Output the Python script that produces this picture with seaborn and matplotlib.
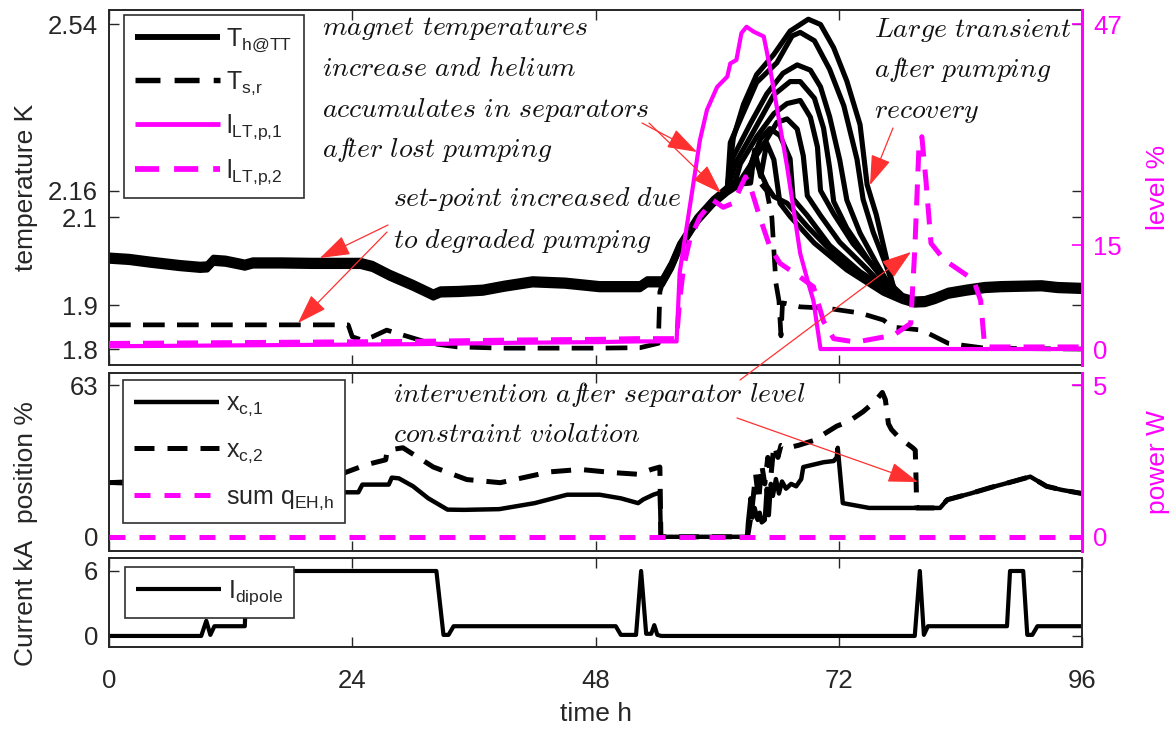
import matplotlib
matplotlib.use("Agg")
import matplotlib.pyplot as plt
import seaborn as sns
from matplotlib.patches import FancyArrowPatch

# ---------------- data ----------------
# magnet temperatures T_h@TT: shared history before the transient
th_base_t = [0, 2, 4, 7, 9, 9.7, 10.3, 11.5, 13.0, 13.4, 14.2, 17, 20, 24.8, 26, 27.7,
             30, 32.0, 32.7, 34.5, 36.9, 39, 41.8, 45, 48.4, 50, 52.4, 53.1, 54.6, 55.5,
             56.3, 57.2, 58.0, 59.6, 61.0]
th_base_T = [2.007, 2.004, 1.998, 1.990, 1.986, 1.987, 2.002, 2.000, 1.993, 1.991, 1.996,
             1.996, 1.995, 1.995, 1.988, 1.968, 1.945, 1.923, 1.930, 1.931, 1.934, 1.943,
             1.953, 1.950, 1.942, 1.942, 1.942, 1.953, 1.953, 1.990, 2.033, 2.065, 2.094,
             2.135, 2.162]
# shared recovery after the transient
th_tail_t = [79.5, 80.5, 81.5, 82.8, 84.6, 86.4, 88, 90, 92, 93.6, 96]
th_tail_T = [1.907, 1.908, 1.915, 1.927, 1.934, 1.940, 1.942, 1.943, 1.944, 1.940, 1.938]

# individual magnets during the transient
m1_t = [61.6, 62.6, 63.9, 65.6, 67.2, 69.0, 70.2, 71.5, 72.8, 74.1, 74.8, 75.7, 76.7, 77.4, 78.3]
m1_T = [2.276, 2.352, 2.420, 2.466, 2.519, 2.546, 2.534, 2.481, 2.405, 2.306, 2.169, 2.101, 2.002, 1.934, 1.915]
m2_t = [61.3, 62.3, 63.9, 65.9, 67.4, 68.2, 69.6, 71.1, 72.5, 73.8, 74.4, 75.4, 76.7, 77.5, 78.3]
m2_T = [2.268, 2.321, 2.405, 2.450, 2.511, 2.519, 2.500, 2.435, 2.352, 2.230, 2.139, 2.064, 1.987, 1.934, 1.915]
m3_t = [61.6, 63.3, 64.9, 66.5, 67.9, 69.2, 70.2, 71.1, 72.1, 72.8, 74.1, 75.7, 77.1, 78.3]
m3_T = [2.238, 2.314, 2.381, 2.428, 2.447, 2.435, 2.397, 2.329, 2.230, 2.139, 2.064, 1.996, 1.941, 1.915]
m4_t = [61.9, 63.6, 65.6, 67.2, 68.2, 69.6, 70.5, 71.1, 71.5, 72.8, 74.8, 76.7, 78.3]
m4_T = [2.230, 2.299, 2.382, 2.412, 2.412, 2.374, 2.306, 2.215, 2.139, 2.078, 2.010, 1.950, 1.915]
m5_t = [61.8, 62.3, 63.9, 65.6, 66.9, 68.2, 69.2, 69.9, 70.2, 71.5, 73.4, 75.7, 77.1, 78.3]
m5_T = [2.175, 2.215, 2.276, 2.329, 2.352, 2.359, 2.321, 2.253, 2.154, 2.101, 2.033, 1.973, 1.941, 1.915]
m6_t = [62.0, 62.6, 64.3, 65.9, 66.9, 67.9, 68.5, 68.9, 70.2, 72.1, 74.8, 76.7, 78.3]
m6_T = [2.178, 2.200, 2.260, 2.321, 2.329, 2.306, 2.245, 2.154, 2.109, 2.048, 1.987, 1.941, 1.915]
m7_t = [62.2, 62.9, 64.3, 65.2, 66.2, 67.2, 67.5, 68.9, 71.1, 74.1, 76.7, 78.3]
m7_T = [2.180, 2.192, 2.276, 2.299, 2.283, 2.230, 2.139, 2.101, 2.033, 1.973, 1.934, 1.915]
m8_t = [62.4, 63.3, 63.7, 64.3, 64.9, 65.6, 66.2, 67.2, 69.6, 72.8, 76.4, 78.3]
m8_T = [2.183, 2.185, 2.260, 2.200, 2.276, 2.238, 2.139, 2.109, 2.048, 1.987, 1.934, 1.915]
m9_t = [62.4, 62.9, 63.6, 64.3, 64.9, 65.6, 66.9, 68.9, 72.1, 75.7, 78.3]
m9_T = [2.183, 2.185, 2.238, 2.200, 2.170, 2.146, 2.131, 2.078, 2.002, 1.941, 1.915]
mag_offset_K = [0.005, 0.002, 0.0, -0.003, 0.007, -0.005, 0.003, -0.007, 0.001]

# separator temperature T_s,r
tsr_t = [0, 23.6, 24.0, 25.0, 26.0, 27.4, 29.7, 31.7, 34.3, 38.6, 48.4, 52.4, 54.2, 54.35,
         54.6, 55.5, 56.3, 58.0, 59.6, 61.0, 62.6, 63.3, 64.0, 64.9, 65.4, 65.8, 66.1, 66.3,
         66.45, 66.7, 68.2, 70.8, 74.1, 76.4, 77.3, 80.2, 82.8, 86.4, 90, 96]
tsr_T = [1.855, 1.855, 1.828, 1.820, 1.828, 1.843, 1.827, 1.813, 1.805, 1.802, 1.802, 1.803,
         1.813, 1.930, 1.950, 1.985, 2.028, 2.090, 2.131, 2.158, 2.185, 2.200, 2.185, 2.160,
         2.100, 1.950, 1.910, 1.830, 1.905, 1.904, 1.896, 1.893, 1.882, 1.866, 1.850, 1.843,
         1.813, 1.802, 1.801, 1.800]

# separator levels l_LT,p,1 and l_LT,p,2 in %
l1_t = [0, 10, 20, 30, 40, 48.4, 52, 56.0, 56.3, 57.0, 57.6, 58.3, 59.0, 60.0, 61.0, 61.3,
        61.9, 62.4, 62.9, 63.6, 64.6, 65.2, 66.9, 68.2, 69.0, 69.5, 70.2, 80, 96]
l1_v = [0.4, 0.5, 0.6, 0.7, 0.9, 1.0, 1.1, 1.1, 11.0, 17.7, 23.4, 30.2, 34.6, 37.9, 39.4, 41.3,
        41.8, 45.7, 46.6, 45.9, 45.2, 40.8, 26.4, 13.8, 9.5, 7.0, 0.0, 0.0, 0.0]
l2_t = [0, 10, 20, 30, 40, 48.4, 52, 56.0, 56.3, 56.7, 57.3, 58.3, 59.6, 60.6, 61.6, 62.8,
        63.3, 64.2, 65.2, 66.2, 68.2, 69.5, 70.5, 71.5, 73.7, 77.4, 79.1, 79.5, 79.9, 80.2,
        80.6, 81.1, 82.4, 85.3, 86.0, 86.4, 96]
l2_v = [0.8, 0.9, 1.0, 1.1, 1.3, 1.4, 1.5, 1.5, 7.0, 11.9, 15.8, 19.1, 21.5, 20.5, 21.1, 24.9,
        23.4, 19.1, 14.8, 12.4, 10.4, 9.0, 4.0, 1.5, 1.0, 2.0, 3.7, 14.3, 28.8, 30.7, 24.4,
        15.3, 12.9, 10.0, 7.0, 0.3, 0.3]

# valve positions x_c,1 and x_c,2 in %
xc1_t = [0, 3, 6, 10, 14, 18, 21, 23.3, 24.6, 25.0, 27.6, 27.9, 28.6, 30, 31.5, 33.4, 35,
         38.5, 42, 45.2, 48.4, 50.5, 52.2, 52.7, 53.7, 54.35, 54.45, 62.95, 63.05, 63.3,
         63.5, 63.7, 64.0, 64.2, 64.4, 64.7, 64.9, 65.1, 65.3, 65.5, 65.8, 66.1, 66.4, 66.8,
         67.3, 67.8, 68.3, 68.5, 69.5, 70.5, 71.5, 71.8, 71.9, 72.4, 75, 78, 82, 82.7, 85,
         87, 89.2, 90.9, 92.5, 94, 96]
xc1_v = [22.5, 22, 21.5, 21, 20.5, 20, 19, 18.5, 18.5, 21.7, 21.7, 24.6, 24.3, 21, 16, 11.3,
         11.2, 11.5, 14, 17.5, 17.5, 16, 14, 15.5, 17.5, 18.4, 0, 0, 6, 16, 8, 12, 7, 10, 6,
         7, 20, 9, 22, 17, 24, 18, 23, 20, 22, 21, 24, 29, 30, 31, 31.5, 33, 37, 14, 12, 12,
         12, 15.4, 18, 20.5, 23, 25, 21, 19.5, 18]
xc2_t = [0, 3, 6, 10, 14, 18, 21, 23.3, 25.4, 27.3, 27.45, 29.0, 32.0, 35.3, 38.6, 43.5,
         46.5, 49.7, 52.2, 53.5, 54.35, 54.45, 63.0, 63.4, 63.8, 64.1, 64.4, 64.7, 65.0, 65.3,
         65.6, 66.0, 66.3, 67.0, 68.0, 69.5, 71.8, 73.0, 74.4, 75.5, 76.3, 76.6, 76.9, 77.2,
         78.0, 78.5, 79.3, 79.55, 79.7, 80.5, 82, 82.7, 85, 87, 89.2, 90.9, 92.5, 94, 96]
xc2_v = [22.5, 23, 23.5, 24.5, 25, 25.5, 26, 26.7, 30, 32, 36, 37, 29, 23.8, 22.5, 27, 28,
         26.7, 26, 28, 29, 0, 0, 10, 26, 15, 30, 22, 33, 25, 38, 33, 38, 37, 38, 40, 46, 48,
         52, 56, 60, 57, 47, 44.6, 41, 39.5, 37, 36, 12, 12, 12, 15.4, 18, 20.5, 23, 25, 21,
         19.5, 18]
# summed electrical heater power in W
qeh_t = [0, 96]
qeh_v = [0, 0]

# dipole current in kA
id_t = [0, 9.1, 9.6, 10.0, 10.4, 10.9, 13.4, 13.6, 32.3, 33.0, 33.5, 34.0, 50.0, 50.5, 52.0,
        52.5, 53.0, 53.5, 53.8, 54.1, 54.5, 79.5, 80.0, 80.4, 80.8, 81.1, 88.6, 88.9, 90.2,
        90.6, 91.1, 91.6, 96]
id_v = [0, 0, 1.4, 0.1, 0.9, 0.9, 0.9, 6, 6, 0.1, 0.1, 0.9, 0.9, 0.1, 0.1, 6, 0.2, 0.2,
        1.0, 0.1, 0, 0, 6, 0.1, 0.9, 0.9, 0.9, 6, 6, 0.1, 0.1, 0.9, 0.9]

time_ticks = [0, 24, 48, 72, 96]
temp_ticks = [1.8, 1.9, 2.1, 2.16, 2.54]
level_ticks = [0, 15, 47]
pos_ticks = [0, 63]
power_ticks = [0, 5]
cur_ticks = [0, 6]

# ---------------- style ----------------
sns.set_theme(style="white")
plt.rcParams["font.family"] = ["Liberation Sans", "DejaVu Sans"]
plt.rcParams["mathtext.fontset"] = "custom"
plt.rcParams["mathtext.rm"] = "Liberation Sans"
plt.rcParams["mathtext.it"] = "Liberation Sans:italic"
plt.rcParams["mathtext.bf"] = "Liberation Sans:bold"

MAG = "#ff00ff"
INK = "#262626"
RED = "#ff3030"
TICK_FS = 18.5
LAB_FS = 19

W, H = 1172, 729
fig = plt.figure(figsize=(W / 100, H / 100), dpi=100)
fig.patch.set_facecolor("white")
X0, X1 = 109, 1082


def rect(top, bottom):
    return [X0 / W, 1 - bottom / H, (X1 - X0) / W, (bottom - top) / H]


ax_t = fig.add_axes(rect(10, 365))
ax_m = fig.add_axes(rect(372.5, 551))
ax_b = fig.add_axes(rect(558, 647))
tw_t = ax_t.twinx()
tw_m = ax_m.twinx()


def line(ax, t, v, color, lw, dash=None, **kw):
    sns.lineplot(x=t, y=v, ax=ax, color=color, lw=lw, estimator=None, sort=False,
                 legend=False, **kw)
    ln = ax.lines[-1]
    if dash is not None:
        ln.set_dashes(dash)
    ln.set_solid_capstyle("butt")
    ln.set_dash_capstyle("butt")
    return ln


# ---- top panel: temperatures and levels ----
magnets = [(m1_t, m1_T), (m2_t, m2_T), (m3_t, m3_T), (m4_t, m4_T), (m5_t, m5_T),
           (m6_t, m6_T), (m7_t, m7_T), (m8_t, m8_T), (m9_t, m9_T)]
h_th = None
for (mt, mT), off in zip(magnets, mag_offset_K):
    tt = th_base_t + mt + th_tail_t
    TT = [v + off for v in th_base_T + mT + th_tail_T]
    ln = line(ax_t, tt, TT, "black", 3.7)
    ln.set_solid_joinstyle("round")
    if h_th is None:
        h_th = ln
h_tsr = line(ax_t, tsr_t, tsr_T, "black", 3.4, dash=(4.6, 2.6))
h_l1 = line(tw_t, l1_t, l1_v, MAG, 3.0)
h_l2 = line(tw_t, l2_t, l2_v, MAG, 3.6, dash=(4.2, 2.6))

# ---- middle panel: valve positions and heater power ----
h_x1 = line(ax_m, xc1_t, xc1_v, "black", 3.2)
h_x2 = line(ax_m, xc2_t, xc2_v, "black", 3.6, dash=(4.0, 2.6))
h_q = line(tw_m, qeh_t, qeh_v, MAG, 3.6, dash=(3.2, 2.8))

# ---- bottom panel: dipole current ----
h_id = line(ax_b, id_t, id_v, "black", 3.0)

# ---------------- axes ----------------
ax_t.set_ylim(1.7636, 2.572)
tw_t.set_ylim((1.7636 - 1.8) / 0.74 * 47, (2.572 - 1.8) / 0.74 * 47)
ax_m.set_ylim(-5.9, 68.3)
tw_m.set_ylim(-5.9 * 5 / 63, 68.3 * 5 / 63)
ax_b.set_ylim(-1.02, 7.2)

ax_t.set_yticks(temp_ticks)
ax_t.set_yticklabels(["1.8", "1.9", "2.1", "2.16", "2.54"])
tw_t.set_yticks(level_ticks)
ax_m.set_yticks(pos_ticks)
tw_m.set_yticks(power_ticks)
ax_b.set_yticks(cur_ticks)

for ax in (ax_t, ax_m, ax_b):
    ax.set_xlim(0, 96)
    ax.set_xticks(time_ticks)
    ax.set_facecolor("white")
    ax.tick_params(axis="both", which="both", direction="in", length=7.5, width=1.0,
                   color=INK, labelcolor=INK, labelsize=TICK_FS,
                   top=True, bottom=True, left=True, right=True)
    ax.tick_params(axis="y", pad=8)
    ax.tick_params(axis="x", pad=16)
    for s in ax.spines.values():
        s.set_color(INK)
        s.set_linewidth(1.4)
    ax.set_xlabel("")
    ax.set_ylabel("")
ax_t.tick_params(labelbottom=False)
ax_m.tick_params(labelbottom=False)

for tw in (tw_t, tw_m):
    tw.set_xlim(0, 96)
    tw.tick_params(axis="y", direction="in", length=7.5, width=1.2, color=MAG,
                   labelcolor=MAG, labelsize=TICK_FS, pad=8, right=True, left=False)
    for k in ("left", "top", "bottom"):
        tw.spines[k].set_visible(False)
    tw.spines["right"].set_color(MAG)
    tw.spines["right"].set_linewidth(2.2)
    tw.set_xlabel("")
    tw.set_ylabel("")

ax_t.set_ylabel("temperature K", fontsize=LAB_FS, color=INK)
ax_m.set_ylabel("position %", fontsize=LAB_FS, color=INK)
ax_b.set_ylabel("Current kA", fontsize=LAB_FS, color=INK)
tw_t.set_ylabel("level %", fontsize=LAB_FS, color=MAG)
tw_m.set_ylabel("power W", fontsize=LAB_FS, color=MAG)
ax_b.set_xlabel("time h", fontsize=LAB_FS, color=INK)
for ax in (ax_t, ax_m, ax_b):
    ax.yaxis.set_label_coords((38 - X0) / (X1 - X0), 0.5)
for tw in (tw_t, tw_m):
    tw.yaxis.set_label_coords((1146 - X0) / (X1 - X0), 0.5)
ax_b.xaxis.set_label_coords(0.5, -(702 - 647) / (647 - 558))

# ---------------- legends ----------------
LEG_FS = 18
leg_kw = dict(loc="upper left", fontsize=LEG_FS, frameon=True, fancybox=False,
              framealpha=1, edgecolor="#303030", handlelength=3.4, handletextpad=0.25,
              borderpad=0.45, borderaxespad=0)
lg = tw_t.legend([h_th, h_tsr, h_l1, h_l2],
                 [r"T$_{\text{h@TT}}$", r"T$_{\text{s,r}}$",
                  r"l$_{\text{LT,p,1}}$", r"l$_{\text{LT,p,2}}$"],
                 bbox_to_anchor=((124 - X0) / (X1 - X0), (365 - 15) / (365 - 10)),
                 labelspacing=0.62, **leg_kw)
lg.get_frame().set_linewidth(1.2)
for h in lg.legend_handles:
    h.set_linewidth(h.get_linewidth() * 1.15)

lg = tw_m.legend([h_x1, h_x2, h_q],
                 [r"x$_{\text{c,1}}$", r"x$_{\text{c,2}}$", r"sum q$_{\text{EH,h}}$"],
                 bbox_to_anchor=((123 - X0) / (X1 - X0), (551 - 380) / (551 - 372.5)),
                 labelspacing=0.78, **leg_kw)
lg.get_frame().set_linewidth(1.2)

lg = ax_b.legend([h_id], [r"I$_{\text{dipole}}$"],
                 bbox_to_anchor=((125 - X0) / (X1 - X0), (647 - 567) / (647 - 558)),
                 **leg_kw)
lg.get_frame().set_linewidth(1.2)

# ---------------- annotations ----------------
ANN_FS = 20


def note(x, y, s):
    fig.text(x / W, 1 - y / H, s, fontsize=ANN_FS, ha="left", va="baseline",
             math_fontfamily="cm", color="#111111", zorder=10)


note(322, 35, r"$\mathit{magnet\ temperatures}$")
note(322, 76, r"$\mathit{increase\ and\ helium}$")
note(322, 117, r"$\mathit{accumulates\ in\ separators}$")
note(322, 157, r"$\mathit{af\!ter\ lost\ pumping}$")
note(393, 206, r"$\mathit{set\text{-}point\ increased\ due}$")
note(393, 248, r"$\mathit{to\ degraded\ pumping}$")
note(874, 37, r"$\mathit{Large\ transient}$")
note(874, 77, r"$\mathit{af\!ter\ pumping}$")
note(874, 118, r"$\mathit{recovery}$")
note(393, 402, r"$\mathit{intervention\ af\!ter\ separator\ level}$")
note(393, 442, r"$\mathit{constraint\ violation}$")

arrows = [((642, 123), (697, 152)), ((649, 123), (721, 193)),
          ((388, 225), (320, 258)), ((387, 232), (298, 323)),
          ((893, 128), (870, 185)), ((740, 380), (911, 252)),
          ((737, 418), (918, 482))]
for (xa, ya), (xb, yb) in arrows:
    fig.add_artist(FancyArrowPatch((xa / W, 1 - ya / H), (xb / W, 1 - yb / H),
                                   transform=fig.transFigure,
                                   arrowstyle="-|>,head_length=1.25,head_width=0.42",
                                   mutation_scale=15, color=RED, lw=0.9,
                                   shrinkA=0, shrinkB=0, zorder=9))

fig.savefig("out.png", dpi=100, facecolor="white")
